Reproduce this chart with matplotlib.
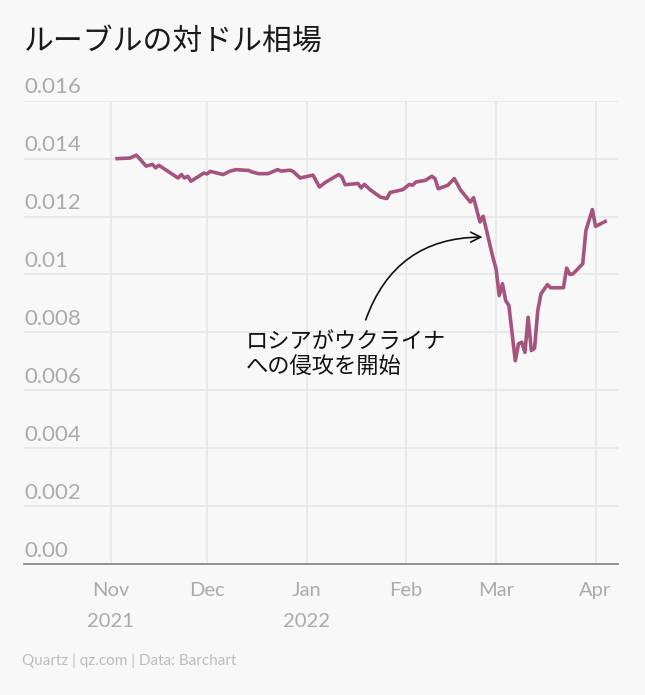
import matplotlib.pyplot as plt
import matplotlib.transforms as mtransforms
import pandas as pd

# Données
dates = [
    "2021-11-03", "2021-11-07", "2021-11-09", "2021-11-10", "2021-11-12", "2021-11-14",
    "2021-11-15", "2021-11-16", "2021-11-22", "2021-11-23", "2021-11-24", "2021-11-25",
    "2021-11-26", "2021-11-30", "2021-12-01", "2021-12-02", "2021-12-06", "2021-12-08",
    "2021-12-10", "2021-12-14", "2021-12-15", "2021-12-17", "2021-12-20", "2021-12-23",
    "2021-12-24", "2021-12-27", "2021-12-28", "2021-12-30", "2022-01-03", "2022-01-05",
    "2022-01-07", "2022-01-11", "2022-01-12", "2022-01-13", "2022-01-17", "2022-01-18",
    "2022-01-19", "2022-01-21", "2022-01-24", "2022-01-26", "2022-01-27", "2022-01-31",
    "2022-02-02", "2022-02-03", "2022-02-04", "2022-02-07", "2022-02-09", "2022-02-10",
    "2022-02-11", "2022-02-14", "2022-02-16", "2022-02-18", "2022-02-21", "2022-02-22",
    "2022-02-24", "2022-02-25", "2022-02-28", "2022-03-01", "2022-03-02", "2022-03-03",
    "2022-03-04", "2022-03-05", "2022-03-07", "2022-03-08", "2022-03-09", "2022-03-10",
    "2022-03-11", "2022-03-12", "2022-03-13", "2022-03-14", "2022-03-15", "2022-03-17",
    "2022-03-18", "2022-03-22", "2022-03-23", "2022-03-24", "2022-03-25", "2022-03-28",
    "2022-03-29", "2022-03-31", "2022-04-01", "2022-04-04",
]
rate = [
    0.01400, 0.01402, 0.01412, 0.01400, 0.01374, 0.01380,
    0.01368, 0.01377, 0.01333, 0.01345, 0.01333, 0.01339,
    0.01322, 0.01350, 0.01347, 0.01356, 0.01345, 0.01356,
    0.01362, 0.01359, 0.01354, 0.01348, 0.01348, 0.01362,
    0.01357, 0.01360, 0.01354, 0.01333, 0.01343, 0.01302,
    0.01319, 0.01345, 0.01337, 0.01310, 0.01314, 0.01299,
    0.01311, 0.01291, 0.01267, 0.01262, 0.01283, 0.01293,
    0.01311, 0.01308, 0.01319, 0.01325, 0.01339, 0.01331,
    0.01296, 0.01308, 0.01331, 0.01291, 0.01250, 0.01265,
    0.01181, 0.01201, 0.01060, 0.01020, 0.00927, 0.00968,
    0.00910, 0.00893, 0.00702, 0.00760, 0.00766, 0.00731,
    0.00852, 0.00737, 0.00745, 0.00875, 0.00933, 0.00965,
    0.00954, 0.00954, 0.01022, 0.01000, 0.01002, 0.01037,
    0.01152, 0.01224, 0.01166, 0.01183,
]

y_ticks = [0.0, 0.002, 0.004, 0.006, 0.008, 0.01, 0.012, 0.014, 0.016]
y_labels = ["0.00", "0.002", "0.004", "0.006", "0.008", "0.01", "0.012", "0.014", "0.016"]
x_ticks = ["2021-11-01", "2021-12-01", "2022-01-01", "2022-02-01", "2022-03-01", "2022-04-01"]
x_labels = ["Nov\n2021", "Dec", "Jan\n2022", "Feb", "Mar", "Apr"]

title = "ルーブルの対ドル相場"
note = "ロシアがウクライナ\nへの侵攻を開始"
note_pos = ("2021-12-13", 0.00805)
arrow_from = ("2022-01-19 10:00", 0.00843)
arrow_to = ("2022-02-24 19:00", 0.01129)
source = "Quartz | qz.com | Data: Barchart"

bg = "#f8f8f8"
line_color = "#a5537f"
grid_color = "#e6e6e6"
tick_color = "#ababab"
cjk = ["Noto Sans CJK JP", "DejaVu Sans"]
latin = ["Lato", "DejaVu Sans"]

x = pd.to_datetime(dates)

fig = plt.figure(figsize=(6.45, 6.95), dpi=100, facecolor=bg)
ax = fig.add_axes([0.0372, 0.1885, 0.921, 0.6666], facecolor=bg)

ax.plot(x, rate, color=line_color, lw=2.6, solid_joinstyle="round", zorder=3)

ax.set_ylim(0, 0.016)
ax.set_xlim(pd.Timestamp("2021-10-05"), pd.Timestamp("2022-04-08"))

ax.set_yticks(y_ticks)
ax.set_yticklabels([])
ax.tick_params(axis="y", length=0)
ax.set_xticks(pd.to_datetime(x_ticks))
ax.set_xticklabels(x_labels, fontsize=14.5, color=tick_color, family=latin, linespacing=2.0)
ax.tick_params(axis="x", length=0, pad=13)

ax.grid(True, color=grid_color, lw=1.2, zorder=0)
for side in ["top", "right", "left"]:
    ax.spines[side].set_visible(False)
ax.spines["bottom"].set_color("#8a8a8a")
ax.spines["bottom"].set_linewidth(1.3)
ax.spines["bottom"].set_zorder(4)

# étiquettes de l'axe y au-dessus des lignes de grille
trans = mtransforms.blended_transform_factory(ax.transAxes, ax.transData)
offset = mtransforms.ScaledTranslation(0, 2.5 / 72, fig.dpi_scale_trans)
for val, lab in zip(y_ticks, y_labels):
    ax.text(0.0, val, lab, transform=trans + offset, ha="left", va="bottom",
            fontsize=16, color=tick_color, family=latin)

ax.annotate("", xy=(pd.Timestamp(arrow_to[0]), arrow_to[1]),
            xytext=(pd.Timestamp(arrow_from[0]), arrow_from[1]),
            arrowprops=dict(arrowstyle="->", color="#111111", lw=1.2,
                            connectionstyle="arc3,rad=-0.35", mutation_scale=18,
                            shrinkA=0, shrinkB=0), zorder=5)
ax.text(pd.Timestamp(note_pos[0]), note_pos[1], note, ha="left", va="top",
        fontsize=16, family=cjk, color="#111111", linespacing=1.05, zorder=5)

fig.text(0.036, 0.940, title, ha="left", va="center", fontsize=21.5, family=cjk, color="#1a1a1a")
fig.text(0.034, 0.049, source, ha="left", va="center", fontsize=11, family=latin, color="#bdbdbd")

fig.savefig("out.png", dpi=100, facecolor=bg)
